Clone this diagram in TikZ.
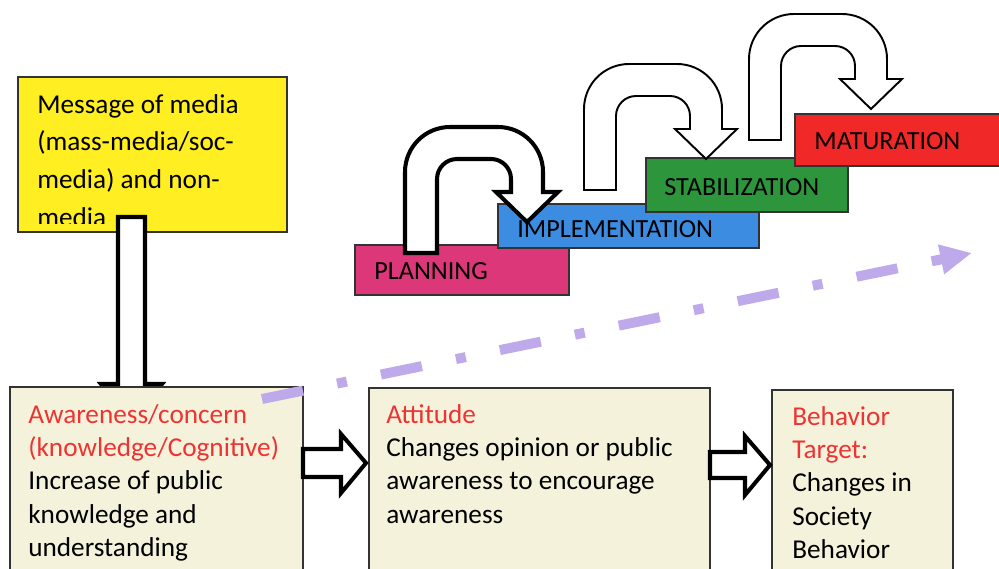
\documentclass[tikz,border=0pt]{standalone}
\usepackage{fontspec}
\setmainfont{Carlito}
\usetikzlibrary{fit,arrows.meta}

\definecolor{msgyellow}{HTML}{FFEE22}
\definecolor{panel}{HTML}{F5F2DC}
\definecolor{planpink}{HTML}{DC3778}
\definecolor{implblue}{HTML}{3C8CE1}
\definecolor{stabgreen}{HTML}{2D963C}
\definecolor{matred}{HTML}{F02828}
\definecolor{headred}{HTML}{EE3333}
\definecolor{trendlilac}{HTML}{BEAAEB}
\definecolor{edgegray}{HTML}{333333}

\newcommand\panelfont{\fontsize{15.5pt}{19pt}\selectfont}
\newcommand\msgfont{\fontsize{15.5pt}{21.5pt}\selectfont}
\newcommand\stagefont{\fontsize{14.9pt}{18pt}\selectfont}

\tikzset{
  box/.style={inner sep=0pt, draw=edgegray, line width=0.85pt, fit={#1}},
  textblock/.style={anchor=base west, inner sep=0pt},
  stagetxt/.style={anchor=base west, inner sep=0pt, font=\stagefont},
  blockarrow/.style={draw=black, fill=white, line width=2.3pt, line join=miter},
  uturnline/.style={draw=black, fill=white, line join=miter},
  trend/.style={draw=trendlilac, line width=5.7pt,
    dash pattern=on 23.8pt off 19.8pt on 5.7pt off 19.8pt,
    -{Triangle[length=18pt,width=16pt]}},
  % U-shaped block arrow; origin = outer top-left corner of the arch
  pics/uturn/.style={code={
    \draw[uturnline,#1] (0,126) -- (0,45)
      arc[start angle=180,end angle=270,radius=45] -- (93,0)
      arc[start angle=270,end angle=360,radius=45] -- (138,65)
      -- (153,65) -- (122,95) -- (91,65) -- (106,65) -- (106,52)
      arc[start angle=0,end angle=-90,radius=20] -- (52,32)
      arc[start angle=-90,end angle=-180,radius=20] -- (32,126) -- cycle;
  }}
}

\begin{document}
\begin{tikzpicture}[x=0.02cm, y=-0.02cm]
\useasboundingbox (0,0) rectangle (999,568);
\clip (0,0) rectangle (999,568);

% source message box
\node[box={(18,77) (287,232)}, fill=msgyellow, line width=0.6pt] (msg) {};
\begin{scope}
  \clip (18,77) rectangle (287,223);
  \node[textblock] (msgT) at (37,113)
    {\parbox[t]{8cm}{\msgfont\raggedright Message of media\\(mass-media/soc-\\media) and non-\\media}};
\end{scope}

% downward block arrow into the awareness panel
\draw[blockarrow] (118,217) -- (145,217) -- (145,384) -- (162,384)
  -- (131.5,420) -- (101,384) -- (118,384) -- cycle;

% bottom panels
\node[box={(10,387) (303,600)}, fill=panel] (aware) {};
\node[textblock] (awareT) at (28,423)
  {\parbox[t]{9cm}{\panelfont\raggedright
   \textcolor{headred}{Awareness/concern}\\
   \textcolor{headred}{(knowledge/Cognitive)}\\
   Increase of public\\knowledge and\\understanding}};

\node[box={(369,388) (710,600)}, fill=panel] (attitude) {};
\node[textblock] (attitudeT) at (386,423)
  {\parbox[t]{9cm}{\panelfont\raggedright
   \textcolor{headred}{Attitude}\\
   Changes opinion or public\\awareness to encourage\\awareness}};

\node[box={(772,390) (953,600)}, fill=panel] (behavior) {};
\node[textblock] (behaviorT) at (792,425)
  {\parbox[t]{6cm}{\panelfont\raggedright
   \textcolor{headred}{Behavior}\\
   \textcolor{headred}{Target:}\\
   Changes in\\Society\\Behavior}};

% block arrows between panels
\draw[blockarrow] (303,449) -- (341,449) -- (341,434) -- (366,463)
  -- (341,493) -- (341,477) -- (303,477) -- cycle;
\draw[blockarrow] (710,452) -- (745,452) -- (745,436) -- (770,465)
  -- (745,495) -- (745,478) -- (710,478) -- cycle;

% rising dash-dot trend arrow
\coordinate (trendS) at (262,399);
\coordinate (trendE) at (972,253);
\draw[trend] (trendS) -- (trendE);

% staircase of stages
\node[box={(355,245) (569,295)}, fill=planpink] (plan) {};
\node[stagetxt] (planT) at (374,279) {PLANNING};
\node[box={(498,204) (759,248)}, fill=implblue] (impl) {};
\node[stagetxt] (implT) at (517,237) {IMPLEMENTATION};
\node[box={(646,158) (848,212)}, fill=stabgreen] (stab) {};
\node[stagetxt] (stabT) at (664,195) {STABILIZATION};
\node[box={(795,114) (1010,166)}, fill=matred] (mat) {};
\node[stagetxt] (matT) at (814,149) {MATURATION};

% U-turn arrows stepping from stage to stage
\pic at (405,127) {uturn={line width=2.3pt}};
\pic at (584,64) {uturn={line width=1.1pt}};
\pic at (749,14) {uturn={line width=1.1pt}};
\end{tikzpicture}
\end{document}
